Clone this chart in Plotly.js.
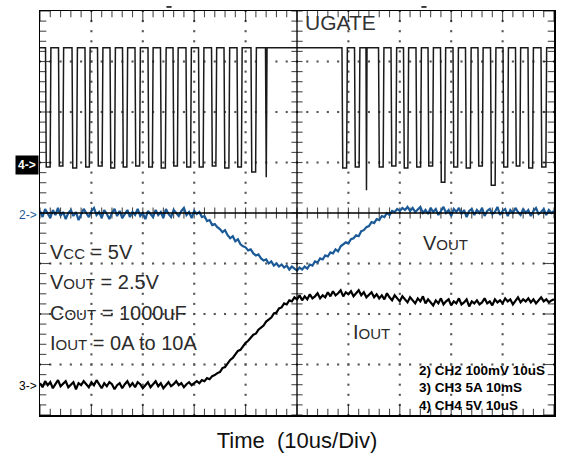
<!DOCTYPE html>
<html>
<head>
<meta charset="utf-8">
<script src="https://cdn.plot.ly/plotly-3.0.1.min.js"></script>
<style>html,body{margin:0;padding:0;background:#fff;}#chart{width:561px;height:455px;}</style>
</head>
<body>
<div id="chart"></div>
<script>
// ---------------- Data ----------------
// Time base: 10 us/div, 10 divisions; 8 vertical divisions.
const SAMPLE_DT = 0.5; // us between samples of VOUT / IOUT

// Channel settings: ground marker position (div) and scale (units/div)
const CH2_OFFSET = -0.04, CH2_SCALE = 100; // VOUT, mV/div
const CH3_OFFSET = -3.43, CH3_SCALE = 5;   // IOUT, A/div
const CH4_OFFSET = 0.95,  CH4_SCALE = 5;   // UGATE, V/div

// UGATE (CH4): falling-edge times (us), low-pulse widths (us), low level (V)
const ugFall = [1.07, 3.6, 6.23, 8.75, 11.19, 13.62, 16.05, 18.48, 21.01, 23.44, 25.88, 28.4, 30.84, 33.37, 35.8, 38.33, 41.05, 43.87,
                58.75, 61.19, 63.42, 65.86, 68.29, 70.72, 73.15, 75.49, 77.92, 80.35, 82.78, 85.21, 87.65, 90.08, 92.51, 94.94, 97.47];
const ugWidth = [1.05, 1.0, 1.05, 1.0, 1.05, 1.05, 1.0, 1.05, 1.0, 1.1, 1.0, 1.05, 1.05, 1.0, 1.1, 1.0, 1.05, 0.3,
                 1.05, 1.05, 0.2, 1.05, 1.1, 1.0, 1.05, 1.05, 1.0, 1.05, 1.1, 1.0, 1.05, 1.05, 1.0, 1.05, 1.1];
const ugLow = [-0.2, -0.1, -0.3, -0.2, -0.1, -0.3, -0.2, -0.1, -0.2, -0.3, -0.1, -0.2, -0.2, -0.1, -0.3, -0.2, -0.7, -1.2,
               -0.3, -0.2, -2.5, -0.2, -0.1, -0.3, -0.2, -0.1, -1.7, -0.2, -0.3, -0.1, -2.0, -0.2, -0.1, -0.3, -0.2];
const ugHigh = 11.6; // V

// VOUT (CH2) deviation, mV, every 0.5 us from 0 to 100 us
const vout = [
  8, -4, 12, 2, -6, 10, 0, 14, -2, 6,
  -8, 4, 10, -2, 6, -10, 2, 12, 4, -4,
  8, 14, 0, 6, -6, 10, 2, -8, 4, 12,
  -2, 8, -6, 2, 10, -4, 6, 0, 12, -2,
  4, -8, 8, 2, -4, 10, 0, 6, -6, 12,
  2, -4, 10, 4, -2, 8, 14, 0, 6, -6,
  8, 2, 6, -4, -2, -12, -10, -20, -18, -24,
  -28, -34, -30, -40, -46, -42, -52, -48, -58, -62,
  -64, -70, -68, -76, -80, -78, -86, -90, -88, -96,
  -92, -100, -96, -102, -98, -104, -100, -108, -102, -106,
  -110, -104, -108, -102, -106, -98, -100, -92, -94, -86,
  -88, -80, -82, -74, -76, -68, -72, -62, -58, -54,
  -56, -48, -46, -40, -42, -32, -30, -24, -22, -14,
  -16, -8, -10, -2, -4, 4, 0, 8, 6, 12,
  8, 14, 10, 16, 8, 14, 6, 12, 16, 4,
  10, 2, 14, 6, 12, 0, 8, 16, 4, 10,
  -2, 12, 6, 14, 2, 10, -4, 8, 12, 0,
  10, 4, 14, -2, 8, 12, 2, 6, 16, 0,
  8, 12, -2, 10, 4, 14, 6, 0, 12, 4,
  10, -2, 8, 14, 2, 6, 12, 0, 10, 4,
  8
];

// IOUT (CH3), A, every 0.5 us from 0 to 100 us
const iout = [
  0.3, -0.1, 0.5, 0.1, 0.4, -0.2, 0.2, 0.6, 0.0, 0.3,
  0.5, -0.1, 0.2, 0.4, -0.3, 0.3, 0.1, 0.5, 0.2, -0.1,
  0.4, 0.1, 0.6, 0.2, -0.2, 0.3, 0.0, 0.4, 0.2, -0.3,
  0.1, 0.3, -0.2, 0.2, 0.5, 0.0, 0.3, -0.1, 0.4, 0.2,
  -0.2, 0.1, 0.4, -0.1, 0.2, 0.5, 0.0, 0.3, -0.2, 0.1,
  0.4, 0.0, 0.2, 0.5, 0.1, 0.3, -0.1, 0.2, 0.4, 0.1,
  0.3, 0.5, 0.3, 0.6, 0.5, 0.8, 0.7, 1.0, 1.1, 1.3,
  1.4, 1.8, 1.9, 2.3, 2.6, 2.8, 3.1, 3.5, 3.6, 4.0,
  4.3, 4.5, 4.8, 5.1, 5.2, 5.6, 5.8, 6.0, 6.4, 6.6,
  6.8, 7.2, 7.3, 7.7, 7.8, 8.2, 8.1, 8.5, 8.4, 8.8,
  8.6, 9.0, 8.5, 8.9, 8.6, 9.1, 8.7, 8.9, 9.2, 8.7,
  9.0, 8.8, 9.3, 8.9, 9.4, 9.0, 9.2, 9.5, 8.9, 9.3,
  9.1, 9.4, 8.9, 9.2, 9.5, 9.0, 9.3, 8.8, 9.1, 9.3,
  8.8, 9.1, 8.7, 9.0, 8.6, 9.2, 8.8, 8.5, 9.0, 8.7,
  8.4, 8.9, 8.6, 8.3, 8.8, 8.5, 8.2, 8.7, 8.4, 8.9,
  8.2, 8.6, 8.3, 8.0, 8.5, 8.2, 8.7, 8.1, 8.4, 8.6,
  8.0, 8.4, 8.2, 8.7, 8.1, 8.3, 8.6, 7.9, 8.4, 8.2,
  8.5, 8.1, 8.3, 8.7, 8.2, 8.4, 8.0, 8.6, 8.3, 8.5,
  8.2, 8.7, 8.4, 8.6, 8.1, 8.5, 8.8, 8.3, 8.6, 8.4,
  8.7, 8.3, 8.6, 8.2, 8.5, 8.8, 8.4, 8.6, 8.3, 8.5,
  8.6
];

// Graticule: 10 x 8 divisions, 5 minor marks per division
const X_DIVS = 10, Y_DIVS = 8, US_PER_DIV = 10, MINOR = 5;

// ---------------- Build traces ----------------
const FONT = '"Liberation Sans", Arial, Helvetica, sans-serif';
const EDGE = 0.15;
const X_MAX = X_DIVS * US_PER_DIV, Y_TOP = Y_DIVS / 2;

const ugX = [0], ugY = [CH4_OFFSET + ugHigh / CH4_SCALE];
for (let i = 0; i < ugFall.length; i++) {
  const f = ugFall[i], w = ugWidth[i];
  const hi = CH4_OFFSET + ugHigh / CH4_SCALE;
  const lo = CH4_OFFSET + ugLow[i] / CH4_SCALE;
  const e = Math.min(EDGE, w / 2);
  ugX.push(f, f + e, f + w - e, f + w);
  ugY.push(hi, lo, lo, hi);
}
ugX.push(X_MAX); ugY.push(CH4_OFFSET + ugHigh / CH4_SCALE);

const tV = vout.map((_, i) => i * SAMPLE_DT);
const tI = iout.map((_, i) => i * SAMPLE_DT);

// Graticule marks (dotted division lines, centre cross ticks, border ticks)
const dotX = [], dotY = [];
const hTickX = [], hTickY = [], hTickS = [];   // vertical tick marks along horizontal lines
const vTickX = [], vTickY = [], vTickS = [];   // horizontal tick marks along vertical lines
for (let d = 1; d < X_DIVS; d++) {
  if (d === X_DIVS / 2) continue;
  for (let k = 0; k <= Y_DIVS * MINOR; k++) { dotX.push(d * US_PER_DIV); dotY.push(-Y_TOP + k / MINOR); }
}
for (let d = 1; d < Y_DIVS; d++) {
  if (d === Y_DIVS / 2) continue;
  for (let k = 0; k <= X_DIVS * MINOR; k++) { dotX.push(k * US_PER_DIV / MINOR); dotY.push(-Y_TOP + d); }
}
for (let k = 0; k <= X_DIVS * MINOR; k++) {
  const x = k * US_PER_DIV / MINOR, major = k % MINOR === 0;
  [-Y_TOP, 0, Y_TOP].forEach(y => { hTickX.push(x); hTickY.push(y); hTickS.push(y === 0 ? 8 : (major ? 15 : 9)); });
}
for (let k = 0; k <= Y_DIVS * MINOR; k++) {
  const y = -Y_TOP + k / MINOR, major = k % MINOR === 0;
  [0, X_MAX / 2, X_MAX].forEach(x => { vTickX.push(x); vTickY.push(y); vTickS.push(x === X_MAX / 2 ? 8 : (major ? 15 : 9)); });
}

const traces = [
  { x: dotX, y: dotY, mode: 'markers', marker: { symbol: 'square', size: 2.1, color: '#555', line: { width: 0 } }, hoverinfo: 'skip' },
  { x: hTickX, y: hTickY, mode: 'markers', marker: { symbol: 'line-ns', size: hTickS, line: { color: '#000', width: 1.1 } }, hoverinfo: 'skip' },
  { x: vTickX, y: vTickY, mode: 'markers', marker: { symbol: 'line-ew', size: vTickS, line: { color: '#000', width: 1.1 } }, hoverinfo: 'skip' },
  { x: ugX, y: ugY, mode: 'lines', line: { color: '#1a1a1a', width: 1.5 }, hoverinfo: 'skip', name: 'UGATE' },
  { x: tV, y: vout.map(v => CH2_OFFSET + v / CH2_SCALE), mode: 'lines', line: { color: '#1b5a96', width: 2.2 }, hoverinfo: 'skip', name: 'VOUT' },
  { x: tI, y: iout.map(v => CH3_OFFSET + v / CH3_SCALE), mode: 'lines', line: { color: '#000000', width: 2.2 }, hoverinfo: 'skip', name: 'IOUT' }
];

// ---------------- Layout ----------------
const layout = {
  width: 561, height: 455,
  margin: { l: 40, r: 7, t: 11, b: 40 },
  paper_bgcolor: '#fff', plot_bgcolor: '#fff',
  showlegend: false,
  xaxis: {
    range: [0, X_MAX], showgrid: false, showline: true, linecolor: '#000', linewidth: 1.5, mirror: true,
    ticks: '', showticklabels: false, zeroline: false, fixedrange: true,
    title: { text: 'Time\u00a0 (10us/Div)', font: { family: FONT, size: 22, color: '#111' }, standoff: 17 }
  },
  yaxis: {
    range: [-Y_TOP, Y_TOP], showgrid: false, showline: true, linecolor: '#000', linewidth: 1.5, mirror: true,
    ticks: '', showticklabels: false, zeroline: false, fixedrange: true
  },
  shapes: [
    { type: 'line', xref: 'x', yref: 'paper', x0: X_MAX / 2, x1: X_MAX / 2, y0: 0, y1: 1, line: { color: '#000', width: 1.3 } },
    { type: 'line', xref: 'paper', yref: 'y', x0: 0, x1: 1, y0: 0, y1: 0, line: { color: '#000', width: 1.3 } },
    { type: 'line', xref: 'x', yref: 'paper', x0: 24.6, x1: 25.6, y0: 1.01, y1: 1.01, line: { color: '#000', width: 1.5 } },
    { type: 'line', xref: 'x', yref: 'paper', x0: 74.2, x1: 75.2, y0: 1.01, y1: 1.01, line: { color: '#000', width: 1.5 } }
  ]
};

const sub = (s) => `<span style="font-size:15px">${s}</span>`;
const labelFont = { family: FONT, size: 20, color: '#2b2b2b' };
const infoFont = { family: FONT, size: 13.5, color: '#000', weight: 'bold' };

layout.annotations = [
  { x: 58.4, y: 3.77, xref: 'x', yref: 'y', text: 'UGATE', showarrow: false, font: { family: FONT, size: 21, color: '#333' } },
  { x: 1.6, y: -0.772, xref: 'x', yref: 'y', xanchor: 'left', text: 'V' + sub('CC') + ' = 5V', showarrow: false, font: labelFont },
  { x: 1.6, y: -1.366, xref: 'x', yref: 'y', xanchor: 'left', text: 'V' + sub('OUT') + ' = 2.5V', showarrow: false, font: labelFont },
  { x: 1.6, y: -1.98, xref: 'x', yref: 'y', xanchor: 'left', text: 'C' + sub('OUT') + ' = 1000uF', showarrow: false, font: labelFont },
  { x: 1.6, y: -2.574, xref: 'x', yref: 'y', xanchor: 'left', text: 'I' + sub('OUT') + ' = 0A to 10A', showarrow: false, font: labelFont },
  { x: 74.2, y: -0.594, xref: 'x', yref: 'y', xanchor: 'left', text: 'V' + sub('OUT'), showarrow: false, font: labelFont },
  { x: 60.6, y: -2.356, xref: 'x', yref: 'y', xanchor: 'left', text: 'I' + sub('OUT'), showarrow: false, font: labelFont },
  { x: 73.3, y: -3.109, xref: 'x', yref: 'y', xanchor: 'left', text: '2) CH2 100mV 10uS', showarrow: false, font: infoFont },
  { x: 73.3, y: -3.465, xref: 'x', yref: 'y', xanchor: 'left', text: '3) CH3 5A 10mS', showarrow: false, font: infoFont },
  { x: 73.3, y: -3.802, xref: 'x', yref: 'y', xanchor: 'left', text: '4) CH4 5V 10uS', showarrow: false, font: infoFont },
  { x: 0, y: CH4_OFFSET, xref: 'paper', yref: 'y', xanchor: 'right', xshift: -1, text: '4->', showarrow: false,
    bgcolor: '#000', borderpad: 2, font: { family: FONT, size: 12, color: '#fff', weight: 'bold' } },
  { x: 0, y: CH2_OFFSET, xref: 'paper', yref: 'y', xanchor: 'right', xshift: -1, text: '2->', showarrow: false,
    font: { family: FONT, size: 12, color: '#1b5a96' } },
  { x: 0, y: CH3_OFFSET, xref: 'paper', yref: 'y', xanchor: 'right', xshift: -1, text: '3->', showarrow: false,
    font: { family: FONT, size: 12, color: '#000' } }
];

Plotly.newPlot('chart', traces, layout, { staticPlot: true, displayModeBar: false });
</script>
</body>
</html>
